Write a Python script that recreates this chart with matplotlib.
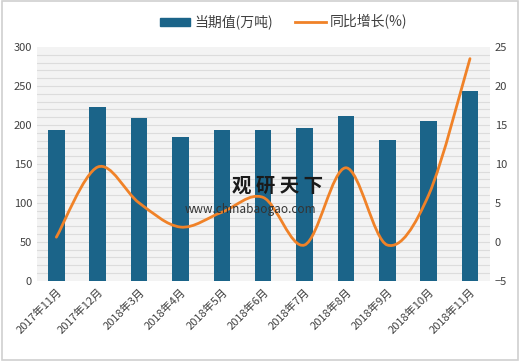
import numpy as np
import matplotlib.pyplot as plt
from matplotlib.path import Path
from matplotlib.patches import PathPatch, Rectangle
from matplotlib.lines import Line2D

plt.rcParams['font.family'] = ['Noto Sans CJK SC', 'DejaVu Sans']

months = ['2017年11月', '2017年12月', '2018年3月', '2018年4月', '2018年5月', '2018年6月',
          '2018年7月', '2018年8月', '2018年9月', '2018年10月', '2018年11月']
output = [194, 223, 209, 184, 193, 194, 196, 211, 181, 205, 243]
growth = [0.6, 9.6, 5.0, 1.9, 3.8, 5.7, -0.4, 9.5, -0.4, 6.0, 23.5]

bar_color = '#1b6489'
line_color = '#f08228'

fig = plt.figure(figsize=(5.2, 3.61), dpi=100)
fig.patches.append(Rectangle((0.004, 0.004), 0.992, 0.992, transform=fig.transFigure,
                             fill=False, edgecolor='#d0d0d0', linewidth=1.2))

ax = fig.add_axes([0.071, 0.222, 0.871, 0.648])
ax.set_facecolor('#f3f3f3')
x = np.arange(len(months))

# striped background lines every 10 units
for v in range(10, 300, 10):
    ax.axhline(v, color='#dcdcdc', linewidth=0.8, zorder=0)

ax.bar(x, output, width=0.4, color=bar_color, zorder=2)
ax.set_ylim(0, 300)
ax.set_yticks(range(0, 301, 50))
ax.set_xlim(-0.47, 10.48)
ax.set_xticks(x)
ax.set_xticklabels(months, rotation=45, ha='right', rotation_mode='anchor',
                   fontsize=7.5, color='#404040')
ax.tick_params(length=0, labelsize=8, colors='#404040')
ax.tick_params(axis='x', pad=4)
for s in ax.spines.values():
    s.set_visible(False)

ax2 = ax.twinx()
ax2.set_ylim(-5, 25)
ax2.set_yticks(range(-5, 26, 5))
ax2.tick_params(length=0, labelsize=8, colors='#404040')
for s in ax2.spines.values():
    s.set_visible(False)

# smooth line through the data points (Catmull-Rom as cubic Bezier segments)
px = np.array(x, dtype=float)
py = np.array(growth, dtype=float)
verts = [(px[0], py[0])]
codes = [Path.MOVETO]
n = len(px)
for i in range(n - 1):
    p0 = (px[i - 1], py[i - 1]) if i > 0 else (px[i], py[i])
    p1 = (px[i], py[i])
    p2 = (px[i + 1], py[i + 1])
    p3 = (px[i + 2], py[i + 2]) if i + 2 < n else (px[i + 1], py[i + 1])
    c1 = (p1[0] + (p2[0] - p0[0]) / 6, p1[1] + (p2[1] - p0[1]) / 6)
    c2 = (p2[0] - (p3[0] - p1[0]) / 6, p2[1] - (p3[1] - p1[1]) / 6)
    verts += [c1, c2, p2]
    codes += [Path.CURVE4] * 3
ax2.add_patch(PathPatch(Path(verts, codes), fill=False, edgecolor=line_color,
                        linewidth=2, zorder=3, capstyle='round'))

# watermark
fig.text(0.447, 0.468, '观 研 天 下', fontsize=14, fontweight='bold', color='#1a1a1a')
fig.text(0.355, 0.41, 'www.chinabaogao.com', fontsize=8.5, color='#333333')

handles = [Rectangle((0, 0), 1, 1, color=bar_color),
           Line2D([], [], color=line_color, linewidth=2)]
fig.legend(handles, ['当期值(万吨)', '同比增长(%)'], loc='center', bbox_to_anchor=(0.545, 0.939),
           ncol=2, frameon=False, fontsize=10, handlelength=2.2, handleheight=0.5,
           columnspacing=1.6, handletextpad=0.3, labelcolor='#404040')

fig.savefig('out.png', dpi=100)
